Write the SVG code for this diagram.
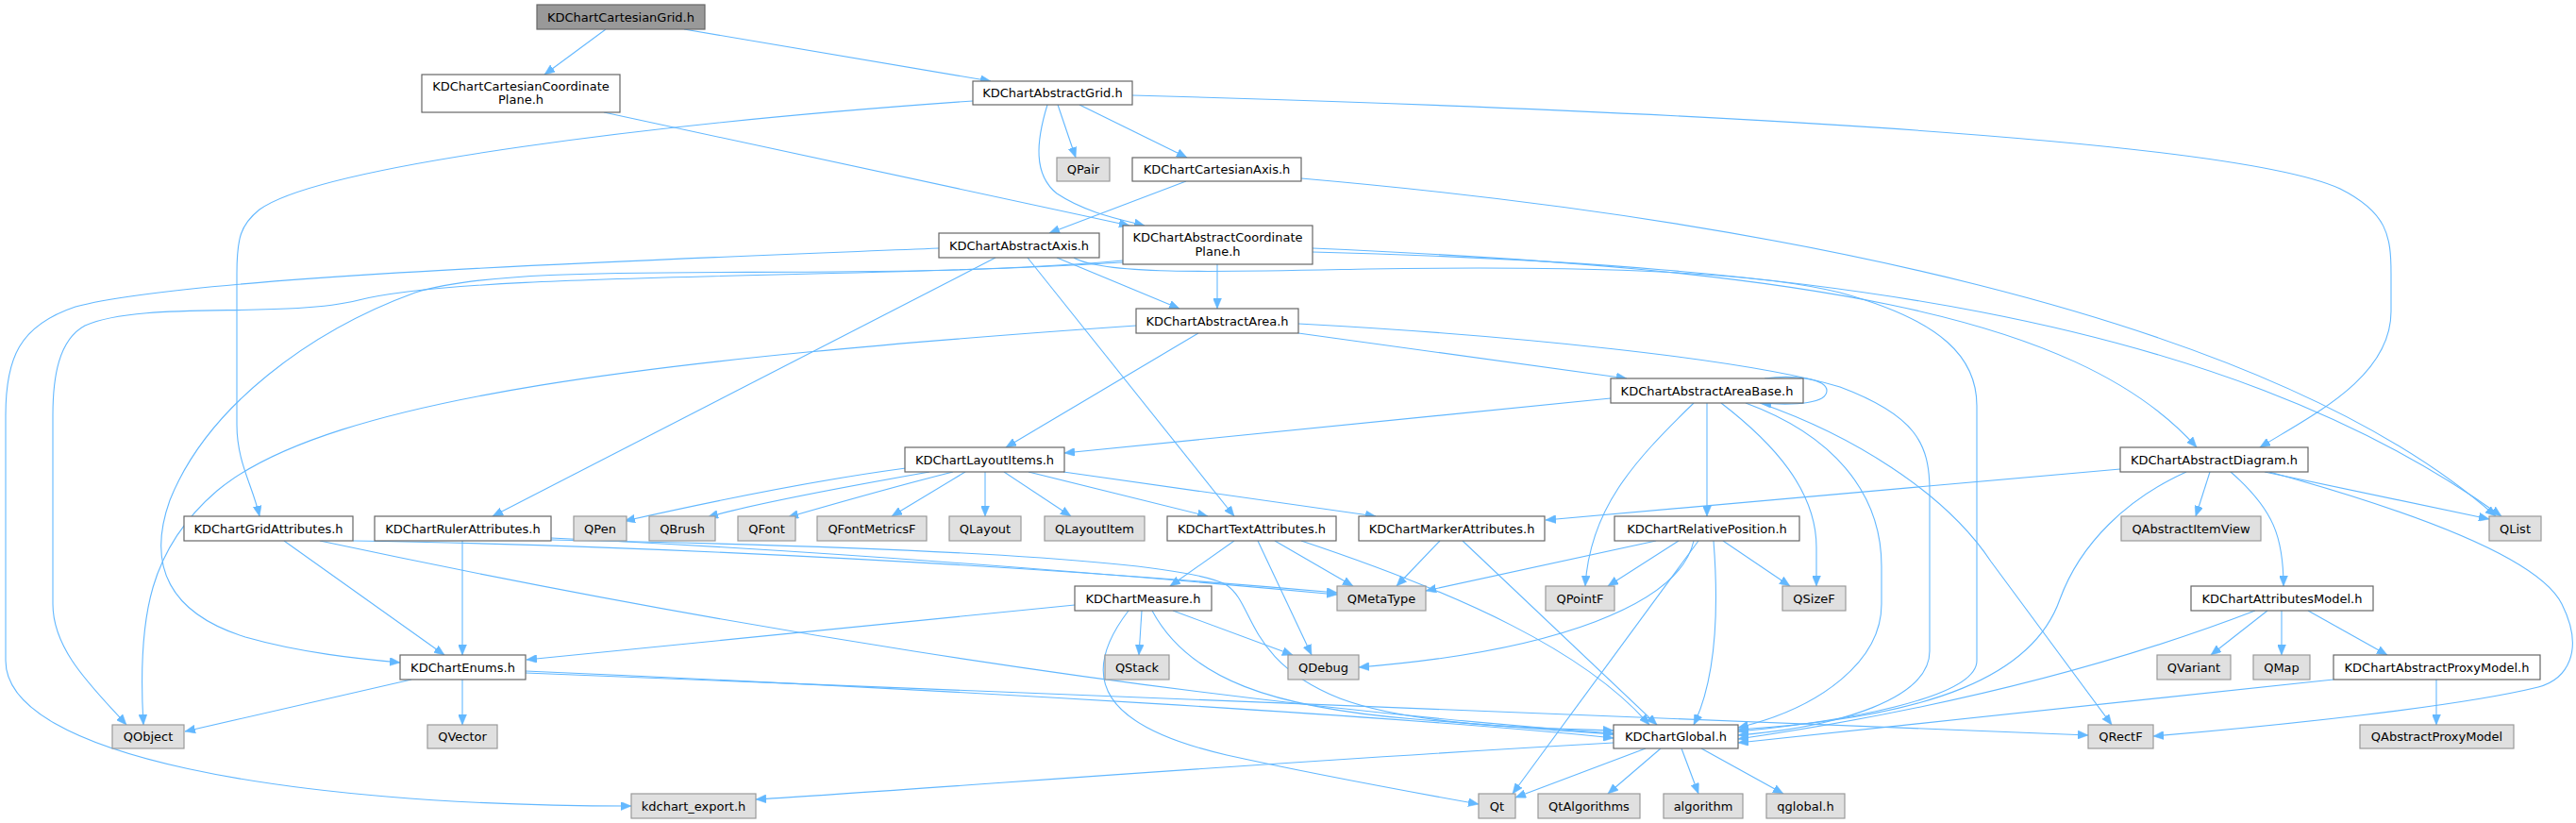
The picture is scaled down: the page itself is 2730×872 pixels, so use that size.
<svg xmlns="http://www.w3.org/2000/svg" width="2730" height="872" viewBox="0 0 2730 872">
<defs>
<style>
.n rect{fill:#ffffff;stroke:#666666;stroke-width:1.2}
.r rect{fill:#999999;stroke:#666666;stroke-width:1.2}
.x rect{fill:#e0e0e0;stroke:#999999;stroke-width:1.2}
text{font-family:"DejaVu Sans","Liberation Sans",sans-serif;font-size:13px;fill:#000000;text-anchor:middle}
#edges path{fill:none;stroke:#63b8ff;stroke-width:1.1;marker-end:url(#ah)}
</style>
<marker id="ah" markerUnits="userSpaceOnUse" markerWidth="12" markerHeight="9" refX="11" refY="4.5" orient="auto">
<path d="M0,0 L11,4.5 L0,9 z" fill="#63b8ff" stroke="#63b8ff" stroke-width="0.5"/>
</marker>
</defs>
<rect width="2730" height="872" fill="#ffffff"/>
<g id="edges">
<path d="M642,31 L577,79"/>
<path d="M725,31 L1050,86"/>
<path d="M640,119 L1197,239"/>
<path d="M1031,107 C700,130 340,175 275,222 C255,238 251,252 251,290 L251,450 C251,490 268,515 275,547"/>
<path d="M1121,111 L1140,167"/>
<path d="M1144,111 L1258,167"/>
<path d="M1110,111 C1098,150 1095,185 1120,205 C1150,225 1185,232 1213,239"/>
<path d="M1200,101 C1600,112 2350,140 2480,200 C2530,225 2534,250 2534,290 L2534,330 C2534,400 2450,440 2395,474"/>
<path d="M1257,192 L1112,247"/>
<path d="M1379,189 C1850,230 2400,330 2645,547"/>
<path d="M995,263 C700,275 200,292 80,325 C20,345 6,380 6,440 L6,700 C6,800 300,854 669,854"/>
<path d="M1120,273 L1250,327"/>
<path d="M1290,280 L1290,327"/>
<path d="M1055,273 L522,547"/>
<path d="M1089,273 L1308,547"/>
<path d="M1138,273 C1170,292 1300,288 1450,285 C1650,282 1850,285 1950,310 C2060,340 2095,380 2095,430 L2095,700 C2095,740 1950,765 1842,775"/>
<path d="M1190,278 C900,296 500,288 380,318 C300,338 150,318 90,345 C62,360 56,400 56,440 L56,640 C56,690 100,730 134,768"/>
<path d="M1190,276 C900,302 560,272 440,310 C330,350 220,430 180,530 C155,600 180,650 260,675 C320,692 380,698 424,702"/>
<path d="M1391,263 C1900,285 2200,330 2328,474"/>
<path d="M1391,267 C1900,280 2350,330 2651,547"/>
<path d="M1376,353 L1724,401"/>
<path d="M1270,353 L1066,474"/>
<path d="M1204,345 C700,380 350,420 230,520 C160,580 145,650 152,768"/>
<path d="M1376,343 C1600,355 1850,380 1950,410 C2030,440 2045,470 2045,520 L2045,690 C2045,740 1950,770 1842,779"/>
<path d="M1870,401 C1900,397 1936,401 1936,414 C1936,427 1905,430 1866,427"/>
<path d="M1707,422 L1128,480"/>
<path d="M1809,427 L1809,547"/>
<path d="M1795,427 C1730,490 1685,540 1680,621"/>
<path d="M1824,427 C1880,470 1925,520 1925,580 L1925,621"/>
<path d="M1850,427 C1940,460 1994,520 1994,600 L1994,640 C1994,700 1930,750 1842,771"/>
<path d="M1865,427 C1960,460 2060,520 2110,595 L2238,768"/>
<path d="M960,496 C870,508 760,530 662,552"/>
<path d="M985,500 C900,515 800,533 750,548"/>
<path d="M1010,500 C950,515 880,535 835,548"/>
<path d="M1023,500 L945,547"/>
<path d="M1044,500 L1044,547"/>
<path d="M1064,500 L1135,547"/>
<path d="M1090,500 L1280,547"/>
<path d="M1127,500 L1458,547"/>
<path d="M2247,497 L1638,551"/>
<path d="M2342,500 L2327,547"/>
<path d="M2364,500 C2410,540 2420,570 2420,621"/>
<path d="M2400,500 L2638,550"/>
<path d="M2405,500 C2550,540 2690,590 2715,640 C2740,690 2720,720 2690,728 C2600,750 2400,770 2282,780"/>
<path d="M2317,500 C2255,528 2205,575 2183,635 C2155,715 2050,760 1842,773"/>
<path d="M301,573 L471,694"/>
<path d="M339,573 C700,650 1200,740 1710,777"/>
<path d="M374,573 C700,578 1100,600 1417,628"/>
<path d="M490,573 L490,694"/>
<path d="M584,570 C900,585 1200,610 1417,630"/>
<path d="M584,572 C900,578 1250,590 1300,620 C1330,640 1320,700 1420,740 C1500,770 1640,772 1710,774"/>
<path d="M1308,573 L1240,621"/>
<path d="M1333,573 L1390,694"/>
<path d="M1351,573 L1434,621"/>
<path d="M1379,573 C1550,630 1680,690 1748,768"/>
<path d="M1526,573 L1480,621"/>
<path d="M1550,573 L1756,768"/>
<path d="M1755,573 L1511,626"/>
<path d="M1779,573 L1704,621"/>
<path d="M1826,573 L1897,621"/>
<path d="M1795,573 C1780,640 1650,690 1440,707"/>
<path d="M1816,573 C1822,650 1818,720 1795,768"/>
<path d="M1800,573 L1603,841"/>
<path d="M1139,641 L558,699"/>
<path d="M1210,647 L1207,694"/>
<path d="M1243,647 L1370,694"/>
<path d="M1221,647 C1260,720 1350,750 1500,762 C1600,770 1660,775 1710,778"/>
<path d="M1196,647 C1140,720 1170,770 1300,800 C1400,822 1500,840 1567,852"/>
<path d="M436,720 L196,775"/>
<path d="M490,720 L490,768"/>
<path d="M557,711 C1000,730 1500,760 1710,782"/>
<path d="M557,713 C1200,740 1800,760 2213,779"/>
<path d="M2390,647 C2200,720 2000,760 1842,783"/>
<path d="M2403,647 L2343,694"/>
<path d="M2418,647 L2418,694"/>
<path d="M2446,647 L2530,694"/>
<path d="M2473,720 C2200,750 2000,770 1842,787"/>
<path d="M2582,720 L2582,768"/>
<path d="M1710,787 C1300,810 1000,835 801,847"/>
<path d="M1744,793 L1606,845"/>
<path d="M1760,793 L1704,841"/>
<path d="M1782,793 L1800,841"/>
<path d="M1803,793 L1890,841"/>
</g>
<g id="n0" class="r"><rect x="569" y="5" width="178" height="26"/><text x="658" y="22.5">KDChartCartesianGrid.h</text></g>
<g id="n1" class="n"><rect x="447" y="79" width="210" height="40"/><text x="552" y="95.5">KDChartCartesianCoordinate</text><text x="552" y="109.5">Plane.h</text></g>
<g id="n2" class="n"><rect x="1031" y="86" width="169" height="25"/><text x="1115.5" y="103">KDChartAbstractGrid.h</text></g>
<g id="n3" class="x"><rect x="1120" y="167" width="56" height="25"/><text x="1148" y="184">QPair</text></g>
<g id="n4" class="n"><rect x="1200" y="167" width="179" height="25"/><text x="1289.5" y="184">KDChartCartesianAxis.h</text></g>
<g id="n5" class="n"><rect x="995" y="247" width="170" height="26"/><text x="1080" y="264.5">KDChartAbstractAxis.h</text></g>
<g id="n6" class="n"><rect x="1190" y="239" width="201" height="41"/><text x="1290.5" y="256">KDChartAbstractCoordinate</text><text x="1290.5" y="271">Plane.h</text></g>
<g id="n7" class="n"><rect x="1204" y="327" width="172" height="26"/><text x="1290" y="344.5">KDChartAbstractArea.h</text></g>
<g id="n8" class="n"><rect x="1707" y="401" width="204" height="26"/><text x="1809" y="418.5">KDChartAbstractAreaBase.h</text></g>
<g id="n9" class="n"><rect x="959" y="474" width="169" height="26"/><text x="1043.5" y="491.5">KDChartLayoutItems.h</text></g>
<g id="n10" class="n"><rect x="2247" y="474" width="199" height="26"/><text x="2346.5" y="491.5">KDChartAbstractDiagram.h</text></g>
<g id="n11" class="n"><rect x="195" y="547" width="179" height="26"/><text x="284.5" y="564.5">KDChartGridAttributes.h</text></g>
<g id="n12" class="n"><rect x="397" y="547" width="187" height="26"/><text x="490.5" y="564.5">KDChartRulerAttributes.h</text></g>
<g id="n13" class="x"><rect x="608" y="547" width="56" height="26"/><text x="636" y="564.5">QPen</text></g>
<g id="n14" class="x"><rect x="688" y="547" width="70" height="26"/><text x="723" y="564.5">QBrush</text></g>
<g id="n15" class="x"><rect x="782" y="547" width="61" height="26"/><text x="812.5" y="564.5">QFont</text></g>
<g id="n16" class="x"><rect x="866" y="547" width="116" height="26"/><text x="924" y="564.5">QFontMetricsF</text></g>
<g id="n17" class="x"><rect x="1006" y="547" width="76" height="26"/><text x="1044" y="564.5">QLayout</text></g>
<g id="n18" class="x"><rect x="1107" y="547" width="106" height="26"/><text x="1160" y="564.5">QLayoutItem</text></g>
<g id="n19" class="n"><rect x="1237" y="547" width="179" height="26"/><text x="1326.5" y="564.5">KDChartTextAttributes.h</text></g>
<g id="n20" class="n"><rect x="1440" y="547" width="197" height="26"/><text x="1538.5" y="564.5">KDChartMarkerAttributes.h</text></g>
<g id="n21" class="n"><rect x="1711" y="547" width="196" height="26"/><text x="1809" y="564.5">KDChartRelativePosition.h</text></g>
<g id="n22" class="x"><rect x="2248" y="547" width="148" height="26"/><text x="2322" y="564.5">QAbstractItemView</text></g>
<g id="n23" class="x"><rect x="2638" y="547" width="55" height="26"/><text x="2665.5" y="564.5">QList</text></g>
<g id="n24" class="n"><rect x="1139" y="621" width="145" height="26"/><text x="1211.5" y="638.5">KDChartMeasure.h</text></g>
<g id="n25" class="x"><rect x="1417" y="621" width="94" height="26"/><text x="1464" y="638.5">QMetaType</text></g>
<g id="n26" class="x"><rect x="1638" y="621" width="73" height="26"/><text x="1674.5" y="638.5">QPointF</text></g>
<g id="n27" class="x"><rect x="1889" y="621" width="67" height="26"/><text x="1922.5" y="638.5">QSizeF</text></g>
<g id="n28" class="n"><rect x="2322" y="621" width="193" height="26"/><text x="2418.5" y="638.5">KDChartAttributesModel.h</text></g>
<g id="n29" class="n"><rect x="424" y="694" width="133" height="26"/><text x="490.5" y="711.5">KDChartEnums.h</text></g>
<g id="n30" class="x"><rect x="1171" y="694" width="68" height="26"/><text x="1205" y="711.5">QStack</text></g>
<g id="n31" class="x"><rect x="1365" y="694" width="75" height="26"/><text x="1402.5" y="711.5">QDebug</text></g>
<g id="n32" class="x"><rect x="2286" y="694" width="78" height="26"/><text x="2325" y="711.5">QVariant</text></g>
<g id="n33" class="x"><rect x="2388" y="694" width="60" height="26"/><text x="2418" y="711.5">QMap</text></g>
<g id="n34" class="n"><rect x="2473" y="694" width="219" height="26"/><text x="2582.5" y="711.5">KDChartAbstractProxyModel.h</text></g>
<g id="n35" class="x"><rect x="119" y="768" width="76" height="25"/><text x="157" y="785">QObject</text></g>
<g id="n36" class="x"><rect x="453" y="768" width="74" height="25"/><text x="490" y="785">QVector</text></g>
<g id="n37" class="n"><rect x="1710" y="768" width="132" height="25"/><text x="1776" y="785">KDChartGlobal.h</text></g>
<g id="n38" class="x"><rect x="2213" y="768" width="69" height="25"/><text x="2247.5" y="785">QRectF</text></g>
<g id="n39" class="x"><rect x="2501" y="768" width="163" height="25"/><text x="2582.5" y="785">QAbstractProxyModel</text></g>
<g id="n40" class="x"><rect x="669" y="841" width="132" height="26"/><text x="735" y="858.5">kdchart_export.h</text></g>
<g id="n41" class="x"><rect x="1567" y="841" width="39" height="26"/><text x="1586.5" y="858.5">Qt</text></g>
<g id="n42" class="x"><rect x="1630" y="841" width="108" height="26"/><text x="1684" y="858.5">QtAlgorithms</text></g>
<g id="n43" class="x"><rect x="1763" y="841" width="84" height="26"/><text x="1805" y="858.5">algorithm</text></g>
<g id="n44" class="x"><rect x="1872" y="841" width="83" height="26"/><text x="1913.5" y="858.5">qglobal.h</text></g>
</svg>
